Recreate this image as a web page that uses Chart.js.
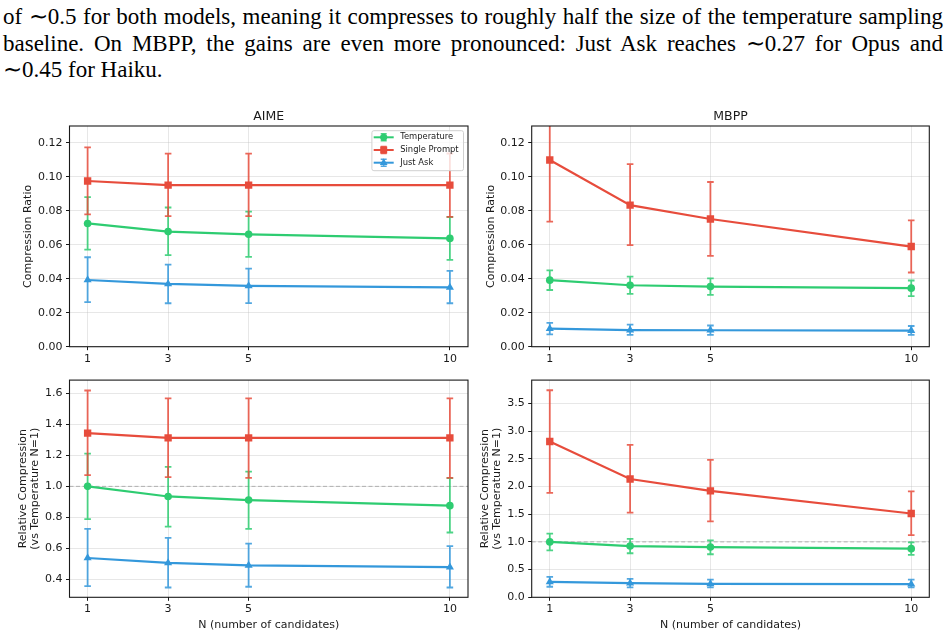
<!DOCTYPE html>
<html><head><meta charset="utf-8">
<script src="https://cdn.jsdelivr.net/npm/chart.js@4.4.0/dist/chart.umd.min.js"></script>
<style>
html,body{margin:0;padding:0;background:#fff;width:948px;height:636px;overflow:hidden;position:relative}
#para{position:absolute;left:3px;top:4px;width:940px;font-family:"Liberation Serif","Times New Roman",serif;font-size:23px;line-height:26.7px;color:#000}
#para div{text-align:justify;text-align-last:justify}
#para div.last{text-align-last:left}
.box{position:absolute}
canvas{display:block}
</style></head><body>
<div id="para">
<div>of ∼0.5 for both models, meaning it compresses to roughly half the size of the temperature sampling</div>
<div>baseline. On MBPP, the gains are even more pronounced: Just Ask reaches ∼0.27 for Opus and</div>
<div class="last">∼0.45 for Haiku.</div>
</div>
<div class="box" style="left:0;top:100px;width:475px;height:270px"><canvas id="c1" width="475" height="270"></canvas></div>
<div class="box" style="left:475px;top:100px;width:473px;height:270px"><canvas id="c2" width="473" height="270"></canvas></div>
<div class="box" style="left:0;top:370px;width:475px;height:266px"><canvas id="c3" width="475" height="266"></canvas></div>
<div class="box" style="left:475px;top:370px;width:473px;height:266px"><canvas id="c4" width="473" height="266"></canvas></div>
<script>
// ---------- data ----------
const nValues = [1, 3, 5, 10];
const seriesNames = ['Temperature', 'Single Prompt', 'Just Ask'];
const xTicks = [1, 3, 5, 10];
const ratioTicks = [0.00, 0.02, 0.04, 0.06, 0.08, 0.10, 0.12];
const aimeRelTicks = [0.4, 0.6, 0.8, 1.0, 1.2, 1.4, 1.6];
const mbppRelTicks = [0.0, 0.5, 1.0, 1.5, 2.0, 2.5, 3.0, 3.5];

// AIME – compression ratio
const aimeTempMean   = [0.0726, 0.0678, 0.0662, 0.0638];
const aimeTempLow    = [0.0572, 0.0539, 0.0529, 0.0511];
const aimeTempHigh   = [0.0881, 0.0820, 0.0796, 0.0764];
const aimeSingleMean = [0.0976, 0.0952, 0.0952, 0.0952];
const aimeSingleLow  = [0.0779, 0.0769, 0.0769, 0.0765];
const aimeSingleHigh = [0.1174, 0.1137, 0.1137, 0.1138];
const aimeAskMean    = [0.0393, 0.0370, 0.0358, 0.0349];
const aimeAskLow     = [0.0262, 0.0256, 0.0257, 0.0256];
const aimeAskHigh    = [0.0527, 0.0484, 0.0460, 0.0447];

// MBPP – compression ratio
const mbppTempMean   = [0.0392, 0.0362, 0.0354, 0.0345];
const mbppTempLow    = [0.0334, 0.0311, 0.0305, 0.0298];
const mbppTempHigh   = [0.0450, 0.0413, 0.0403, 0.0390];
const mbppSingleMean = [0.1100, 0.0834, 0.0752, 0.0590];
const mbppSingleLow  = [0.0737, 0.0598, 0.0535, 0.0437];
const mbppSingleHigh = [0.1463, 0.1076, 0.0970, 0.0744];
const mbppAskMean    = [0.0106, 0.0098, 0.0097, 0.0095];
const mbppAskLow     = [0.0073, 0.0070, 0.0070, 0.0070];
const mbppAskHigh    = [0.0140, 0.0130, 0.0125, 0.0122];

// AIME – relative compression (vs Temperature N=1)
const aimeRelTempMean   = [1.000, 0.935, 0.912, 0.876];
const aimeRelTempLow    = [0.789, 0.741, 0.726, 0.703];
const aimeRelTempHigh   = [1.211, 1.126, 1.095, 1.053];
const aimeRelSingleMean = [1.343, 1.312, 1.312, 1.312];
const aimeRelSingleLow  = [1.072, 1.059, 1.055, 1.055];
const aimeRelSingleHigh = [1.617, 1.566, 1.566, 1.566];
const aimeRelAskMean    = [0.539, 0.507, 0.491, 0.480];
const aimeRelAskLow     = [0.358, 0.349, 0.354, 0.349];
const aimeRelAskHigh    = [0.726, 0.669, 0.632, 0.615];

// MBPP – relative compression (vs Temperature N=1)
const mbppRelTempMean   = [1.000, 0.925, 0.907, 0.878];
const mbppRelTempLow    = [0.848, 0.795, 0.777, 0.765];
const mbppRelTempHigh   = [1.151, 1.056, 1.026, 0.991];
const mbppRelSingleMean = [2.811, 2.135, 1.922, 1.512];
const mbppRelSingleLow  = [1.886, 1.530, 1.370, 1.121];
const mbppRelSingleHigh = [3.737, 2.752, 2.479, 1.910];
const mbppRelAskMean    = [0.279, 0.255, 0.243, 0.237];
const mbppRelAskLow     = [0.190, 0.178, 0.178, 0.178];
const mbppRelAskHigh    = [0.368, 0.332, 0.320, 0.320];

// ---------- style ----------
const COLORS = ['#2ecc71', '#e74c3c', '#3498db'];
const STYLES = ['circle', 'rect', 'triangle'];
const RADII = [3.8, 5.2, 4.7];
const GRID = 'rgba(176,176,176,0.3)';
const INK = '#1a1a1a';

Chart.defaults.font.family = "'DejaVu Sans', sans-serif";
Chart.defaults.font.size = 11;
Chart.defaults.color = INK;

function buildDatasets(means, lows, highs) {
  return seriesNames.map((name, i) => ({
    label: name,
    data: nValues.map((n, j) => ({ x: n, y: means[i][j] })),
    errLow: lows[i], errHigh: highs[i],
    borderColor: COLORS[i], backgroundColor: COLORS[i],
    pointBackgroundColor: COLORS[i], pointBorderColor: COLORS[i],
    pointBorderWidth: 0, pointStyle: STYLES[i], pointRadius: RADII[i],
    borderWidth: 2.2, tension: 0, fill: false, order: 3 - i
  }));
}

const errorBarPlugin = {
  id: 'errbars',
  beforeDatasetDraw(chart, args) {
    const ds = chart.data.datasets[args.index];
    const xs = chart.scales.x, ys = chart.scales.y;
    const ctx = chart.ctx, a = chart.chartArea;
    ctx.save();
    ctx.beginPath(); ctx.rect(a.left, a.top, a.right - a.left, a.bottom - a.top); ctx.clip();
    ctx.strokeStyle = ds.borderColor; ctx.globalAlpha = 0.85; ctx.lineWidth = 1.8;
    ds.data.forEach((p, j) => {
      const x = xs.getPixelForValue(p.x);
      const y1 = ys.getPixelForValue(ds.errLow[j]);
      const y2 = ys.getPixelForValue(ds.errHigh[j]);
      ctx.beginPath();
      ctx.moveTo(x, y1); ctx.lineTo(x, y2);
      ctx.moveTo(x - 3.3, y1); ctx.lineTo(x + 3.3, y1);
      ctx.moveTo(x - 3.3, y2); ctx.lineTo(x + 3.3, y2);
      ctx.stroke();
    });
    ctx.restore();
  }
};

const refLinePlugin = {
  id: 'refline',
  beforeDatasetsDraw(chart, args, opts) {
    if (opts.value === undefined || opts.value === null) return;
    const ctx = chart.ctx, a = chart.chartArea;
    const y = chart.scales.y.getPixelForValue(opts.value);
    ctx.save();
    ctx.strokeStyle = 'rgba(128,128,128,0.55)'; ctx.lineWidth = 1; ctx.setLineDash([4, 2.5]);
    ctx.beginPath(); ctx.moveTo(a.left, y); ctx.lineTo(a.right, y); ctx.stroke();
    ctx.restore();
  }
};

const framePlugin = {
  id: 'frame',
  afterDraw(chart) {
    const ctx = chart.ctx, a = chart.chartArea;
    ctx.save();
    ctx.strokeStyle = INK; ctx.lineWidth = 1.1;
    ctx.strokeRect(a.left, a.top, a.right - a.left, a.bottom - a.top);
    ctx.restore();
  }
};

const boxLegendPlugin = {
  id: 'boxlegend',
  afterDraw(chart, args, opts) {
    if (!opts.show) return;
    const ctx = chart.ctx, a = chart.chartArea;
    const w = 91.6, h = 40;
    const left = a.right - 4.5 - w, top = a.top + 4.7;
    ctx.save();
    ctx.globalAlpha = 0.8; ctx.fillStyle = '#fff';
    ctx.beginPath(); ctx.roundRect(left, top, w, h, 2); ctx.fill();
    ctx.globalAlpha = 1; ctx.strokeStyle = '#d0d0d0'; ctx.lineWidth = 1; ctx.stroke();
    ctx.font = "8.4px 'DejaVu Sans', sans-serif"; ctx.textBaseline = 'middle';
    chart.data.datasets.forEach((ds, i) => {
      const y = top + 6.6 + i * 12.7;
      const x0 = left + 1.8, x1 = left + 21.8, xm = (x0 + x1) / 2;
      ctx.strokeStyle = ds.borderColor; ctx.lineWidth = 2;
      ctx.beginPath(); ctx.moveTo(x0, y); ctx.lineTo(x1, y); ctx.stroke();
      ctx.globalAlpha = 0.85; ctx.lineWidth = 1.5;
      ctx.beginPath(); ctx.moveTo(xm, y - 3.5); ctx.lineTo(xm, y + 3.5);
      ctx.moveTo(xm - 3, y - 3.5); ctx.lineTo(xm + 3, y - 3.5);
      ctx.moveTo(xm - 3, y + 3.5); ctx.lineTo(xm + 3, y + 3.5); ctx.stroke();
      ctx.globalAlpha = 1;
      ctx.fillStyle = ds.borderColor;
      Chart.helpers.drawPoint(ctx, { pointStyle: ds.pointStyle, radius: ds.pointRadius * 0.95, borderWidth: 0 }, xm, y);
      ctx.fillStyle = INK;
      ctx.fillText(ds.label, left + 28.3, y);
    });
    ctx.restore();
  }
};

function makeChart(id, cfg) {
  const yTitle = cfg.yTitle;
  const multi = Array.isArray(yTitle);
  return new Chart(document.getElementById(id), {
    type: 'line',
    data: { datasets: buildDatasets(cfg.means, cfg.lows, cfg.highs) },
    plugins: [errorBarPlugin, refLinePlugin, framePlugin, boxLegendPlugin],
    options: {
      responsive: false, animation: false, devicePixelRatio: 1,
      layout: { padding: { left: 0, right: cfg.padRight, top: cfg.padTop, bottom: 0 } },
      plugins: {
        legend: { display: false }, tooltip: { enabled: false },
        title: cfg.title ? {
          display: true, text: cfg.title, fullSize: false, color: INK,
          font: { size: 12.5, weight: 'normal' }, padding: { top: 9.5, bottom: 1.5 }
        } : { display: false },
        refline: { value: cfg.refLine },
        boxlegend: { show: !!cfg.legend }
      },
      scales: {
        x: {
          type: 'linear', min: 0.55, max: 10.45,
          afterBuildTicks: s => { s.ticks = xTicks.map(v => ({ value: v })); },
          afterFit: s => { s.height = cfg.xHeight; },
          ticks: { callback: v => String(v), padding: 2, maxRotation: 0, color: INK },
          grid: { color: GRID, lineWidth: 1, tickColor: INK, tickLength: 3.5 },
          border: { display: false },
          title: cfg.xTitle ? { display: true, text: cfg.xTitle, color: INK, padding: { top: 0, bottom: 4.5 }, font: { size: 11 } } : { display: false }
        },
        y: {
          type: 'linear', min: cfg.yMin, max: cfg.yMax,
          afterBuildTicks: s => { s.ticks = cfg.yTicks.map(v => ({ value: v })); },
          afterFit: s => { s.width = cfg.yWidth; },
          ticks: { callback: v => v.toFixed(cfg.dec), padding: 3.5, color: INK },
          grid: { color: GRID, lineWidth: 1, tickColor: INK, tickLength: 3.5 },
          border: { display: false },
          title: { display: true, text: yTitle, color: INK, padding: { top: cfg.yTitlePad, bottom: 0 }, font: { size: 11, lineHeight: multi ? 1.12 : 1.2 } }
        }
      }
    }
  });
}

makeChart('c1', {
  means: [aimeTempMean, aimeSingleMean, aimeAskMean],
  lows: [aimeTempLow, aimeSingleLow, aimeAskLow],
  highs: [aimeTempHigh, aimeSingleHigh, aimeAskHigh],
  title: 'AIME', yTitle: 'Compression Ratio', yTitlePad: 21.9,
  yMin: 0, yMax: 0.13, yTicks: ratioTicks, dec: 2,
  yWidth: 69.5, padRight: 7, padTop: 0, xHeight: 23.3, legend: true
});
makeChart('c2', {
  means: [mbppTempMean, mbppSingleMean, mbppAskMean],
  lows: [mbppTempLow, mbppSingleLow, mbppAskLow],
  highs: [mbppTempHigh, mbppSingleHigh, mbppAskHigh],
  title: 'MBPP', yTitle: 'Compression Ratio', yTitlePad: 9.1,
  yMin: 0, yMax: 0.13, yTicks: ratioTicks, dec: 2,
  yWidth: 56.7, padRight: 18.7, padTop: 0, xHeight: 23.3
});
makeChart('c3', {
  means: [aimeRelTempMean, aimeRelSingleMean, aimeRelAskMean],
  lows: [aimeRelTempLow, aimeRelSingleLow, aimeRelAskLow],
  highs: [aimeRelTempHigh, aimeRelSingleHigh, aimeRelAskHigh],
  yTitle: ['Relative Compression', '(vs Temperature N=1)'], yTitlePad: 16.5,
  xTitle: 'N (number of candidates)',
  yMin: 0.286, yMax: 1.684, yTicks: aimeRelTicks, dec: 1,
  yWidth: 69.5, padRight: 7, padTop: 6, xHeight: 38.7, refLine: 1.0
});
makeChart('c4', {
  means: [mbppRelTempMean, mbppRelSingleMean, mbppRelAskMean],
  lows: [mbppRelTempLow, mbppRelSingleLow, mbppRelAskLow],
  highs: [mbppRelTempHigh, mbppRelSingleHigh, mbppRelAskHigh],
  yTitle: ['Relative Compression', '(vs Temperature N=1)'], yTitlePad: 3.85,
  xTitle: 'N (number of candidates)',
  yMin: 0, yMax: 3.92, yTicks: mbppRelTicks, dec: 1,
  yWidth: 56.7, padRight: 18.7, padTop: 6, xHeight: 38.7, refLine: 1.0
});
</script>
</body></html>
